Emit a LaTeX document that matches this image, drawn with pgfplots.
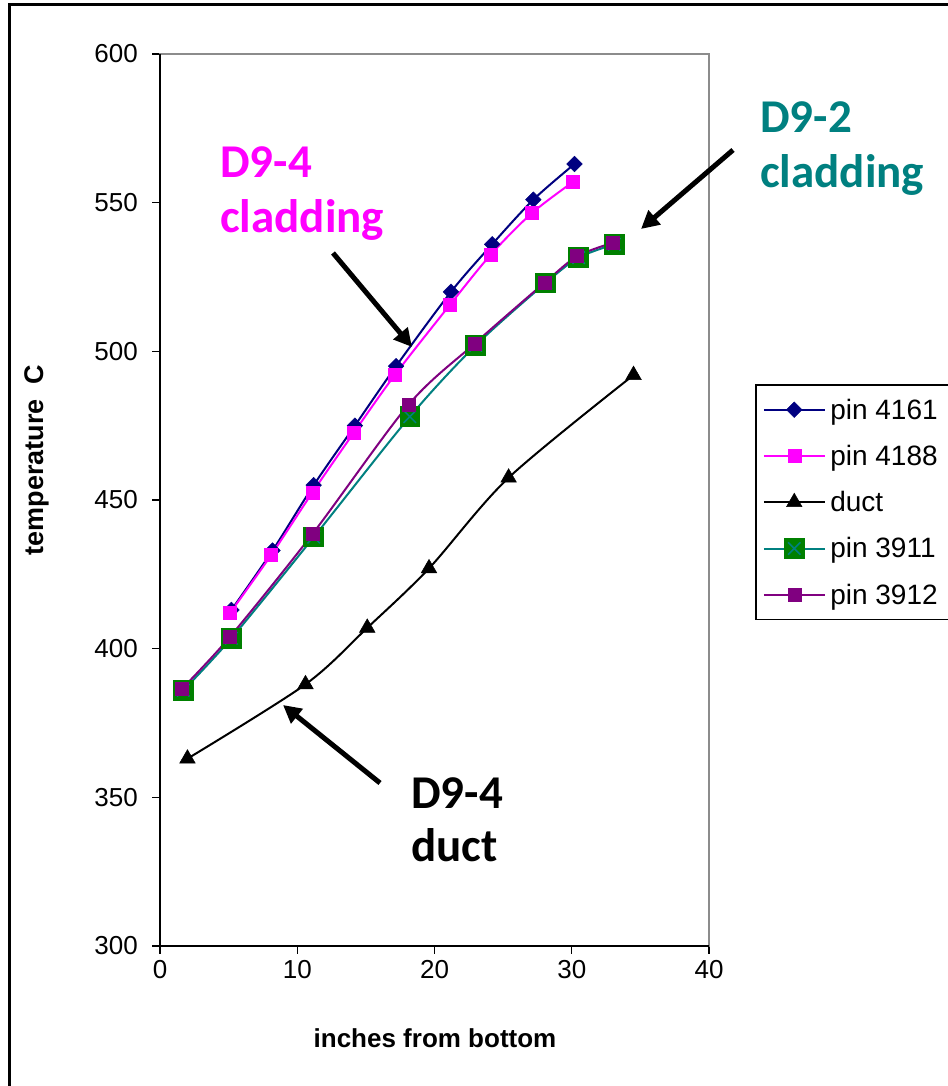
\documentclass[border=0pt]{standalone}
\usepackage{fontspec}
\setmainfont{Liberation Sans}
\newfontfamily\calibri{Carlito}
\usepackage{pgfplots}
\pgfplotsset{compat=1.18}
\usetikzlibrary{arrows.meta}
\definecolor{navyc}{RGB}{0,0,128}
\definecolor{magc}{RGB}{255,0,255}
\definecolor{tealc}{RGB}{0,128,128}
\definecolor{purc}{RGB}{128,0,128}
\definecolor{greenc}{RGB}{0,128,0}
\definecolor{framegray}{RGB}{140,140,140}
\pgfdeclareplotmark{sqx}{%
  \pgfpathrectangle{\pgfqpoint{-\pgfplotmarksize}{-\pgfplotmarksize}}{\pgfqpoint{2\pgfplotmarksize}{2\pgfplotmarksize}}%
  \pgfsetfillcolor{greenc}\pgfusepath{fill}%
  \pgfpathmoveto{\pgfqpoint{-.6\pgfplotmarksize}{-.6\pgfplotmarksize}}%
  \pgfpathlineto{\pgfqpoint{.6\pgfplotmarksize}{.6\pgfplotmarksize}}%
  \pgfpathmoveto{\pgfqpoint{-.6\pgfplotmarksize}{.6\pgfplotmarksize}}%
  \pgfpathlineto{\pgfqpoint{.6\pgfplotmarksize}{-.6\pgfplotmarksize}}%
  \pgfsetstrokecolor{tealc}\pgfsetlinewidth{1.5bp}\pgfusepath{stroke}}
\newcommand{\tfont}{\fontsize{26bp}{30bp}\selectfont}
\newcommand{\lfont}{\fontsize{28bp}{32bp}\selectfont}
\newcommand{\afont}{\fontsize{47bp}{55bp}\selectfont\calibri\bfseries}
\begin{document}
\begin{tikzpicture}[x=1bp,y=1bp]
\useasboundingbox (0,0) rectangle (948,1086);
\fill[white] (0,0) rectangle (948,1086);
\draw[black, line width=3bp] (9,-10) -- (9,1081) -- (960,1081);
\begin{axis}[
  at={(160bp,140bp)}, anchor=south west,
  scale only axis, width=549bp, height=892bp,
  xmin=0, xmax=40, ymin=300, ymax=600,
  xtick={0,10,...,40}, ytick={300,350,...,600},
  tick align=outside, major tick length=8bp,
  every tick/.style={black, line width=1.2bp},
  xtick pos=bottom, ytick pos=left,
  axis line style={framegray, line width=1.5bp},
  ticklabel style={font=\tfont},
  /pgf/number format/assume math mode=true,
  yticklabel style={anchor=east, inner sep=0pt, xshift=-14bp},
  xticklabel style={anchor=north, inner sep=0pt, yshift=-6bp},
  clip=false,
  legend style={at={(rel axis cs:1.0838,0.630)}, anchor=north west, draw=black, line width=1.5bp,
    font=\lfont, inner xsep=7bp, inner ysep=11bp, row sep=18.5bp, nodes={inner ysep=3bp, inner xsep=4.5bp}},
  legend cell align=left,
  legend image code/.code={\draw[mark repeat=2,mark phase=2, line width=2bp] plot coordinates {(0bp,0bp) (30.5bp,0bp) (61bp,0bp)};},
]
\draw[black, line width=2bp] (rel axis cs:0,1) -- (rel axis cs:0,0) -- (rel axis cs:1,0);
\addplot[navyc, line width=2bp, smooth, mark=square*, mark size=5.5bp, mark options={rotate=45, solid, fill=navyc, line width=0.5bp}]
  coordinates {(5.2,413) (8.2,433) (11.2,455) (14.2,475) (17.2,495) (21.2,520) (24.2,536) (27.2,551) (30.2,563)};
\addlegendentry{pin 4161}
\addplot[magc, line width=2bp, smooth, mark=square*, mark size=6.5bp, mark options={solid, fill=magc, line width=0.5bp}]
  coordinates {(5.1,412) (8.1,431.5) (11.1,452.5) (14.1,472.5) (17.1,492) (21.1,515.5) (24.1,532.5) (27.1,546.5) (30.1,557)};
\addlegendentry{pin 4188}
\addplot[black, line width=2bp, smooth, mark=triangle*, mark size=9bp, mark options={solid, fill=black, line width=0.5bp}]
  coordinates {(2,363) (10.6,388) (15.1,407) (19.6,427) (25.4,457.5) (34.5,492)};
\addlegendentry{duct}
\addplot[tealc, line width=2bp, smooth, mark=sqx, mark size=10.3bp, mark options={solid}]
  coordinates {(1.7,386) (5.2,403.5) (11.2,437.5) (18.2,478) (23,502) (28.1,523) (30.5,531.5) (33.1,536)};
\addlegendentry{pin 3911}
\addplot[purc, line width=2bp, smooth, mark=square*, mark size=6.5bp, mark options={solid, fill=purc, line width=0.5bp}]
  coordinates {(1.6,386.5) (5.1,404) (11.1,438.5) (18.1,482) (22.9,502.5) (28,523) (30.4,532) (33,536.5)};
\addlegendentry{pin 3912}
\end{axis}
% axis labels
\node[font=\tfont\bfseries, anchor=center] at (435,48) {inches from bottom};
\node[font=\fontsize{27bp}{31bp}\selectfont\bfseries, anchor=center, rotate=90] at (37,626) {temperature\ \ C};
% annotations
\node[font=\afont, text=magc, anchor=base west, inner sep=0pt] at (220,908) {D9-4};
\node[font=\afont, text=magc, anchor=base west, inner sep=0pt] at (220,853) {cladding};
\node[font=\afont, text=tealc, anchor=base west, inner sep=0pt] at (760,953) {D9-2};
\node[font=\afont, text=tealc, anchor=base west, inner sep=0pt] at (760,898) {cladding};
\node[font=\afont, text=black, anchor=base west, inner sep=0pt] at (411,277) {D9-4};
\node[font=\afont, text=black, anchor=base west, inner sep=0pt] at (411,224) {duct};
% arrows
\draw[line width=5bp, -{Triangle[length=18bp,width=18bp]}] (333,833) -- (412,739);
\draw[line width=5bp, -{Triangle[length=18bp,width=18bp]}] (733,936) -- (641,857);
\draw[line width=5bp, -{Triangle[length=18bp,width=18bp]}] (380,303) -- (283,381);
\end{tikzpicture}
\end{document}
